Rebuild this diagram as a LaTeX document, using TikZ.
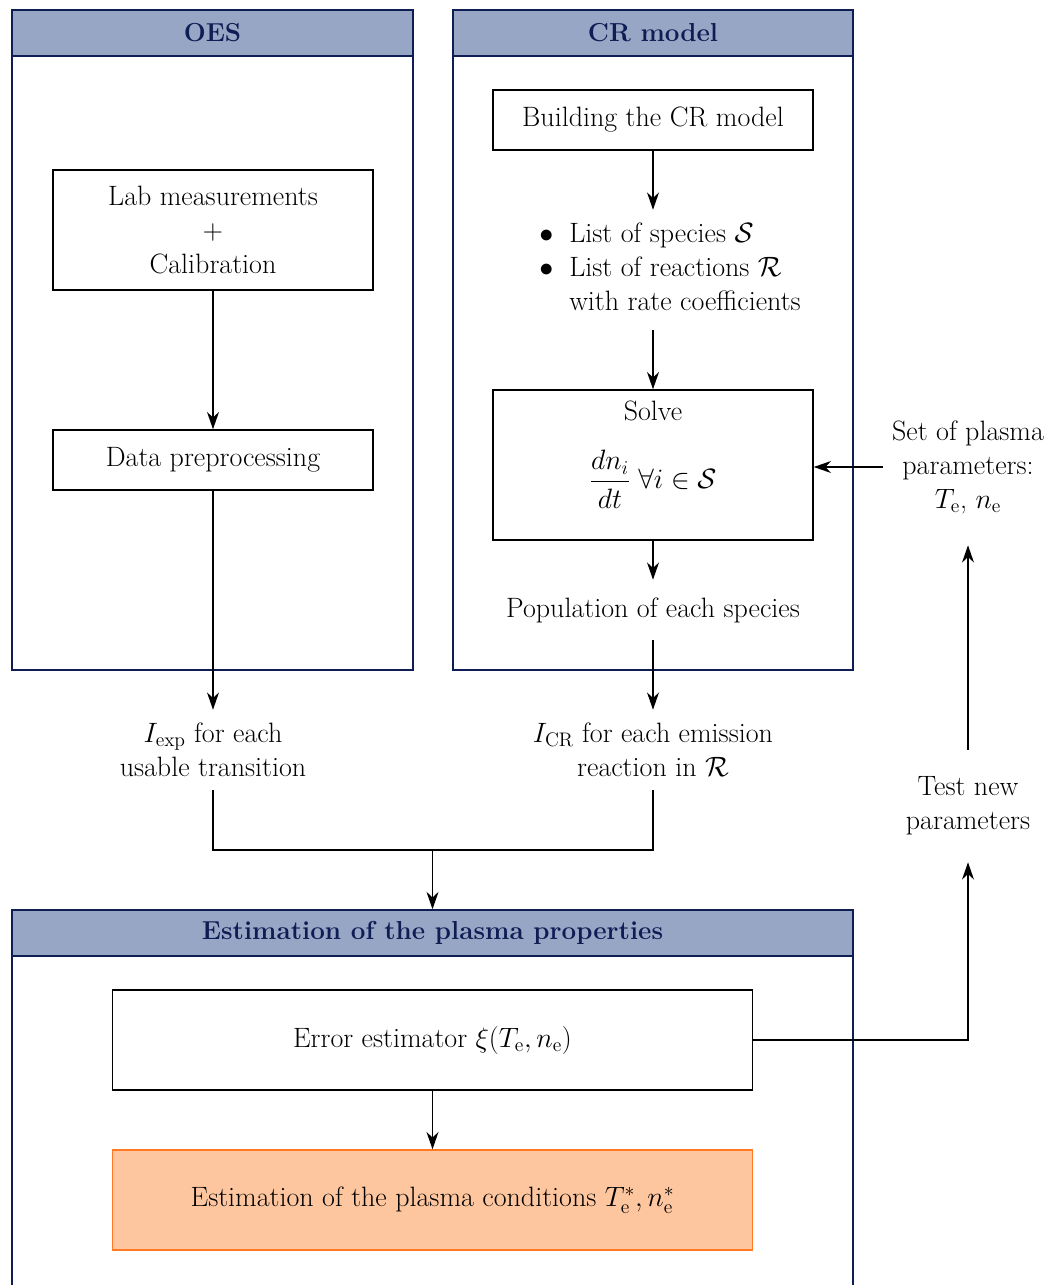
\RequirePackage{fix-cm}
\documentclass[tikz,border=0pt]{standalone}
\usepackage{amsmath}
\usepackage{fontspec}
\usetikzlibrary{arrows.meta}
\definecolor{headfill}{RGB}{152,166,198}
\definecolor{navy}{RGB}{14,30,84}
\definecolor{ofill}{RGB}{254,198,158}
\definecolor{oline}{RGB}{255,122,34}
\begin{document}
\begin{tikzpicture}[x=0.75pt,y=-0.75pt,
  font=\fontsize{21}{25.5}\selectfont,
  box/.style={draw=black, line width=1.1pt, minimum width=240pt, inner sep=0pt, align=center},
  lbl/.style={align=center, inner sep=0pt},
  arr/.style={line width=1.1pt, -{Stealth[length=13pt,width=9pt]}},
  ln/.style={line width=1.1pt},
  frame/.style={draw=navy, line width=1.2pt},
  head/.style={draw=navy, fill=headfill, line width=1.2pt, text=navy,
    font=\fontsize{19.5}{25.5}\selectfont\bfseries, minimum height=34.5pt, inner sep=0pt}
]
\useasboundingbox (0,0) rectangle (1055,1285);

% frames
\draw[frame] (12,10) rectangle (413,670);
\node[head, minimum width=300.75pt] (oeshead) at (212.5,33) {OES};
\draw[frame] (453,10) rectangle (853,670);
\node[head, minimum width=300pt] (crhead) at (653,33) {CR model};
\draw[frame] (12,1295) -- (12,910) -- (853,910) -- (853,1295);
\node[head, minimum width=630.75pt] (esthead) at (432.5,933) {Estimation of the plasma properties};

% OES column
\node[box, minimum height=90pt] (lab) at (213,230) {Lab measurements\\+\\Calibration};
\node[box, minimum height=45pt] (data) at (213,460) {Data preprocessing};
\node[lbl, minimum height=60pt] (iexp) at (213,750) {$I_{\mathrm{exp}}$ for each\\usable transition};

% CR column
\node[box, minimum height=45pt] (build) at (653,120) {Building the CR model};
\node[lbl, minimum height=90pt] (lists) at (670,270) {%
  \begin{tabular}{@{}l@{\hspace{12pt}}l@{}}
  $\bullet$ & List of species $\mathcal{S}$\\
  $\bullet$ & List of reactions $\mathcal{R}$\\
  & with rate coefficients
  \end{tabular}};
\node[box, minimum height=112.5pt] (solve) at (653,465) {Solve\\[21pt]$\dfrac{dn_i}{dt}\;\forall i\in\mathcal{S}$\rule[-30pt]{0pt}{0pt}};
\node[lbl, minimum height=45pt] (pop) at (653,610) {Population of each species};
\node[lbl, minimum height=60pt] (icr) at (653,750) {$I_{\mathrm{CR}}$ for each emission\\reaction in $\mathcal{R}$};

\coordinate (merge) at (432.5,850);

% estimation
\node[box, minimum width=480pt, minimum height=75pt] (err) at (432.5,1040) {Error estimator $\xi(T_{\mathrm{e}},n_{\mathrm{e}})$};
\node[box, draw=oline, fill=ofill, minimum width=480pt, minimum height=75pt] (est) at (432.5,1200) {Estimation of the plasma conditions $T_{\mathrm{e}}^*, n_{\mathrm{e}}^*$};

% loop
\node[lbl, minimum height=84pt] (test) at (968,806) {Test new\\parameters};
\node[lbl, minimum height=117pt, minimum width=127.5pt] (setp) at (968,467) {Set of plasma\\parameters:\\$T_{\mathrm{e}}$, $n_{\mathrm{e}}$};

% connectors
\draw[arr] (lab) -- (data);
\draw[arr] (data) -- (iexp);
\draw[arr] (build.south) -- (build.south |- lists.north);
\draw[arr] (solve.north |- lists.south) -- (solve.north);
\draw[arr] (solve) -- (pop);
\draw[arr] (pop) -- (icr);
\draw[ln] (iexp.south) |- (merge) -| (icr.south);
\draw[arr] (merge) -- (esthead.north);
\draw[arr] (err) -- (est);
\draw[arr] (err.east) -| (test.south);
\draw[arr] (test) -- (setp);
\draw[arr] (setp.west) -- (setp.west -| solve.east);
\end{tikzpicture}
\end{document}
